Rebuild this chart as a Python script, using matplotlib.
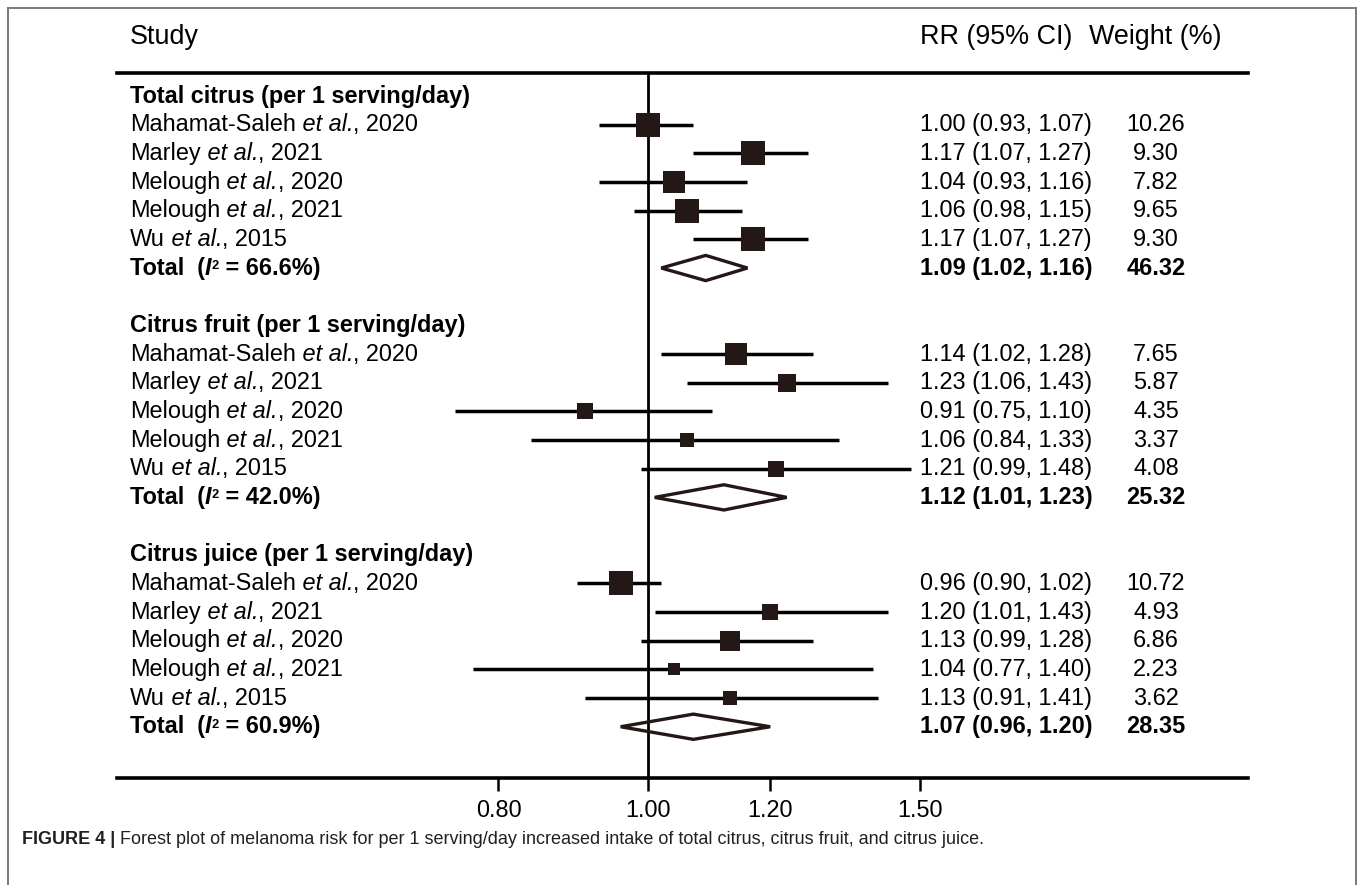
import numpy as np
import matplotlib
matplotlib.use("Agg")
import matplotlib.pyplot as plt
import matplotlib.transforms as mtransforms
from matplotlib.patches import Polygon
from matplotlib.lines import Line2D

plt.rcParams['font.family'] = ['Liberation Sans', 'DejaVu Sans']

# --- dados ---
group_titles = ["Total citrus (per 1 serving/day)",
                "Citrus fruit (per 1 serving/day)",
                "Citrus juice (per 1 serving/day)"]
authors = ["Mahamat-Saleh", "Marley", "Melough", "Melough", "Wu"]
years = [2020, 2021, 2020, 2021, 2015]

rr_total = [1.00, 1.17, 1.04, 1.06, 1.17]
lo_total = [0.93, 1.07, 0.93, 0.98, 1.07]
hi_total = [1.07, 1.27, 1.16, 1.15, 1.27]
w_total = [10.26, 9.30, 7.82, 9.65, 9.30]

rr_fruit = [1.14, 1.23, 0.91, 1.06, 1.21]
lo_fruit = [1.02, 1.06, 0.75, 0.84, 0.99]
hi_fruit = [1.28, 1.43, 1.10, 1.33, 1.48]
w_fruit = [7.65, 5.87, 4.35, 3.37, 4.08]

rr_juice = [0.96, 1.20, 1.13, 1.04, 1.13]
lo_juice = [0.90, 1.01, 0.99, 0.77, 0.91]
hi_juice = [1.02, 1.43, 1.28, 1.40, 1.41]
w_juice = [10.72, 4.93, 6.86, 2.23, 3.62]

pooled_rr = [1.09, 1.12, 1.07]
pooled_lo = [1.02, 1.01, 0.96]
pooled_hi = [1.16, 1.23, 1.20]
pooled_w = [46.32, 25.32, 28.35]
i2 = [66.6, 42.0, 60.9]

xticks = [0.80, 1.00, 1.20, 1.50]
xtick_labels = ["0.80", "1.00", "1.20", "1.50"]

groups = [(rr_total, lo_total, hi_total, w_total),
          (rr_fruit, lo_fruit, hi_fruit, w_fruit),
          (rr_juice, lo_juice, hi_juice, w_juice)]

# --- figura ---
W, H = 1357, 885
fig = plt.figure(figsize=(W / 100, H / 100), dpi=100)
ax = fig.add_axes([117 / W, 1 - 778 / H, (1248 - 117) / W, (778 - 73) / H])

k = 670.0  # px por unidade de log
ax.set_xscale('log')
ax.set_xlim(np.exp((117 - 648) / k), np.exp((1248 - 648) / k))
row_px = 28.67
ax.set_ylim((778 - 96) / row_px, (73 - 96) / row_px)

dark = '#231815'
body = 16.9
trans = mtransforms.blended_transform_factory(fig.transFigure, ax.transData)
x_study, x_rr, x_w = 130 / W, 920 / W, 1156 / W


def chain(y, pieces, **kw):
    # escreve pedaços de texto lado a lado (ex.: parte em itálico)
    prev = ax.text(x_study, y, pieces[0][0], transform=trans, va='center',
                   ha='left', fontsize=body, **pieces[0][1], **kw)
    for s, props in pieces[1:]:
        prev = ax.annotate(s, xy=(1, 0), xycoords=prev, va='bottom', ha='left',
                           fontsize=body, annotation_clip=False, **props, **kw)
    return prev


# linha vertical em RR = 1
ax.axvline(1.0, color='black', lw=2.0, zorder=1)

for g, (rr, lo, hi, w) in enumerate(groups):
    base = g * 8
    ax.text(x_study, base, group_titles[g], transform=trans, fontsize=body,
            fontweight='bold', va='center', ha='left')
    for i in range(len(rr)):
        r = base + 1 + i
        ax.plot([lo[i], hi[i]], [r, r], color='black', lw=2.5,
                solid_capstyle='butt', zorder=2)
        ax.plot(rr[i], r, marker='s', ms=7.6 * np.sqrt(w[i]) * 0.72,
                color=dark, mec=dark, mew=0, zorder=3)
        chain(r, [(authors[i], {}), (" et al.", {'style': 'italic'}),
                  (f", {years[i]}", {})])
        ax.text(x_rr, r, f"{rr[i]:.2f} ({lo[i]:.2f}, {hi[i]:.2f})",
                transform=trans, fontsize=body, va='center', ha='left')
        ax.text(x_w, r, f"{w[i]:.2f}", transform=trans, fontsize=body,
                va='center', ha='center')
    r = base + 6
    h = 0.44
    diamond = Polygon([[pooled_lo[g], r], [pooled_rr[g], r - h],
                       [pooled_hi[g], r], [pooled_rr[g], r + h]],
                      closed=True, fill=False, edgecolor=dark, lw=2.4,
                      joinstyle='miter', zorder=3)
    ax.add_patch(diamond)
    # "Total  (I² = xx.x%)"
    t1 = ax.text(x_study, r, "Total  (", transform=trans, fontsize=body,
                 fontweight='bold', va='center', ha='left')
    tI = ax.annotate("I", xy=(1, 0), xycoords=t1, va='bottom', ha='left',
                     fontsize=body, fontweight='bold', style='italic',
                     annotation_clip=False)
    tsup = ax.annotate("2", xy=(1, 1), xycoords=tI, va='top', ha='left',
                       xytext=(0.3, -2.5), textcoords='offset points',
                       fontsize=body * 0.55, fontweight='bold',
                       annotation_clip=False)
    ax.annotate(f" = {i2[g]:.1f}%)", xy=(1, 0), xycoords=(tsup, tI),
                va='bottom', ha='left', fontsize=body, fontweight='bold',
                annotation_clip=False)
    ax.text(x_rr, r, f"{pooled_rr[g]:.2f} ({pooled_lo[g]:.2f}, {pooled_hi[g]:.2f})",
            transform=trans, fontsize=body, fontweight='bold', va='center', ha='left')
    ax.text(x_w, r, f"{pooled_w[g]:.2f}", transform=trans, fontsize=body,
            fontweight='bold', va='center', ha='center')

# cabeçalho
hdr_y = (37 - 96) / row_px
ax.text(x_study, hdr_y, "Study", transform=trans, fontsize=19.4, va='center')
ax.text(x_rr, hdr_y, "RR (95% CI)", transform=trans, fontsize=19.4, va='center')
ax.text(1089 / W, hdr_y, "Weight (%)", transform=trans, fontsize=19.4, va='center')

# eixos
for s in ['left', 'right']:
    ax.spines[s].set_visible(False)
ax.spines['top'].set_linewidth(2.6)
ax.spines['bottom'].set_linewidth(2.6)
ax.set_yticks([])
ax.xaxis.set_minor_locator(matplotlib.ticker.NullLocator())
ax.set_xticks(xticks)
ax.set_xticklabels(xtick_labels)
ax.tick_params(axis='x', direction='out', length=9, width=1.8,
               labelsize=body, pad=6)

# moldura
frame_c = '#7a7a7a'
fig.add_artist(Line2D([8 / W, 8 / W], [0, 1 - 8 / H], transform=fig.transFigure,
                      color=frame_c, lw=1.4))
fig.add_artist(Line2D([8 / W, 1356 / W], [1 - 8 / H, 1 - 8 / H],
                      transform=fig.transFigure, color=frame_c, lw=1.4))
fig.add_artist(Line2D([1355.5 / W, 1355.5 / W], [0, 1 - 8 / H],
                      transform=fig.transFigure, color=frame_c, lw=1.4))

# legenda da figura
cap = fig.text(22 / W, 1 - 839 / H, "FIGURE 4 |", fontsize=13.0,
               fontweight='bold', color='#231f20', va='center', ha='left')
ax.annotate(" Forest plot of melanoma risk for per 1 serving/day increased intake "
            "of total citrus, citrus fruit, and citrus juice.",
            xy=(1, 0), xycoords=cap, va='bottom', ha='left',
            fontsize=13.0, color='#231f20', annotation_clip=False)

fig.savefig("out.png", dpi=100)
